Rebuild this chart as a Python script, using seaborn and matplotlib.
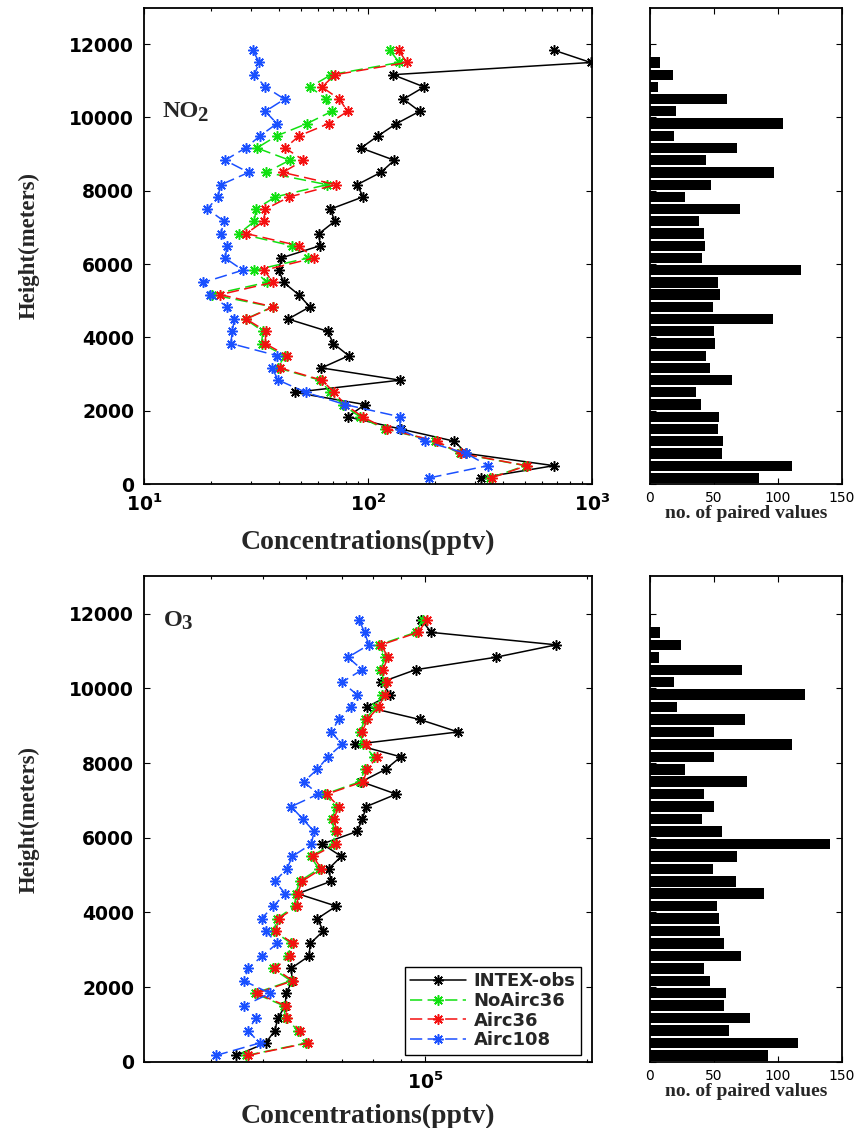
import matplotlib
matplotlib.use("Agg")
import matplotlib.pyplot as plt
import seaborn as sns
from matplotlib.ticker import LogLocator, NullFormatter

# ---------------- data ----------------
heights = [167, 500, 833, 1167, 1500, 1833, 2167, 2500, 2833, 3167, 3500, 3833,
           4167, 4500, 4833, 5167, 5500, 5833, 6167, 6500, 6833, 7167, 7500, 7833,
           8167, 8500, 8833, 9167, 9500, 9833, 10167, 10500, 10833, 11167, 11500, 11833]

series_names = ["INTEX-obs", "NoAirc36", "Airc36", "Airc108"]

# NO2 (pptv), bottom to top
no2_obs = [318, 676, 275, 243, 140, 81, 97, 47, 139, 62, 82, 70, 66, 44, 55, 49, 42, 40,
           41, 61, 60.5, 71, 68, 95, 89.5, 114, 131, 93, 111, 134, 170, 144, 178, 129, 986, 678]
no2_noairc36 = [350, 505, 257, 200, 119, 92, 77, 68, 61, 39.5, 42.5, 33.5, 33.9, 28.4, 37.5,
                20.1, 35.3, 31.1, 54.2, 45.7, 26.6, 31.1, 31.6, 38.6, 65.6, 35.1, 44.7, 31.9,
                39.2, 53.4, 69, 64.9, 55.2, 68.5, 138, 125]
no2_airc36 = [356, 511, 260, 203, 121, 94.6, 79, 70.7, 62.2, 40.5, 43.5, 34.7, 35.1, 28.6,
              37.8, 21.9, 37.6, 34.4, 57.5, 49.1, 28.6, 34.2, 34.8, 44.6, 71.9, 41.7, 51.5,
              42.7, 49.3, 66.7, 81.1, 74.5, 62.2, 71.4, 149, 137]
no2_airc108 = [188, 343, 275, 179, 139, 139, 79, 52.8, 39.8, 37.2, 39.4, 24.4, 24.8, 25.3,
               23.5, 19.7, 18.4, 27.6, 23, 23.5, 22, 22.8, 19.2, 21.3, 22.1, 29.3, 23, 28.4,
               33, 39.2, 34.8, 42.4, 34.8, 31.1, 32.7, 30.6]
no2_counts = [85, 111, 56, 57, 53, 54, 40, 36, 64, 47, 44, 51, 50, 96, 49, 55, 53, 118,
              41, 43, 42, 38, 70, 27, 48, 97, 44, 68, 19, 104, 20, 60, 6, 18, 8, 1]

# O3 (pptv), bottom to top
o3_obs = [44500, 50500, 52500, 53200, 54900, 55100, 56600, 56300, 60800, 61100, 64600,
          63000, 68300, 57900, 66800, 66100, 69800, 64300, 74600, 76400, 77600, 88300,
          76000, 84400, 90000, 73900, 115000, 97600, 77900, 86100, 82800, 95900, 135000,
          175000, 102600, 98300]
o3_noairc36 = [46500, 60000, 58000, 55000, 54500, 48200, 56200, 52000, 55600, 56300, 52300,
               53000, 57200, 57400, 58400, 63400, 61200, 67500, 67800, 67000, 68300, 65000,
               75600, 77200, 80300, 76600, 75600, 77200, 81000, 83000, 84000, 82500, 84300,
               82000, 95900, 99000]
o3_airc36 = [46800, 60500, 58600, 55300, 55000, 48600, 56700, 52500, 56100, 56700, 52700,
             53400, 57800, 57900, 59000, 64100, 61800, 68300, 68500, 67600, 69000, 65600,
             76600, 78000, 81300, 77400, 76300, 78000, 81900, 84000, 84900, 83400, 85200,
             82800, 96900, 100700]
o3_airc108 = [40800, 49200, 46800, 48400, 46100, 51400, 46000, 46800, 49800, 53000, 50500,
              49600, 52200, 54900, 52500, 55300, 56600, 61400, 62100, 59200, 56300, 63200,
              59400, 63000, 65900, 70000, 66900, 69000, 72600, 74600, 70000, 76300, 71800,
              78500, 77100, 75300]
o3_counts = [92, 116, 62, 78, 58, 59, 47, 42, 71, 58, 55, 54, 52, 89, 67, 49, 68, 141,
             56, 41, 50, 42, 76, 27, 50, 111, 50, 74, 21, 121, 19, 72, 7, 24, 8, 1]

height_ticks = [0, 2000, 4000, 6000, 8000, 10000, 12000]
count_ticks = [0, 50, 100, 150]

# ---------------- style ----------------
sns.set_theme(style="white")
plt.rcParams.update({
    "font.family": ["DejaVu Sans"],
    "mathtext.fontset": "dejavusans",
    "axes.edgecolor": "black",
    "axes.linewidth": 1.3,
    "xtick.color": "black",
    "ytick.color": "black",
    "xtick.direction": "in",
    "ytick.direction": "in",
})

colors = ["black", "#10e010", "#f41010", "#1a50ff"]
dash = (0, (8, 3.5))
linestyles = ["-", dash, dash, dash]
ast = (8, 2, 0)

W, H = 862.0, 1128.0


def axpos(l, t, r, b):
    return [l / W, 1 - b / H, (r - l) / W, (b - t) / H]


fig = plt.figure(figsize=(8.62, 11.28), dpi=100)
ax1 = fig.add_axes(axpos(144, 7.5, 592, 484))
axh1 = fig.add_axes(axpos(650, 7.5, 842, 484))
ax2 = fig.add_axes(axpos(144, 576.4, 592, 1061.7))
axh2 = fig.add_axes(axpos(650, 576.4, 842, 1061.7))

serif_bold = dict(family="Liberation Serif", weight="bold")


def line_panel(ax, data_list, xlim, major, major_labels):
    ax.set_xscale("log")
    for vals, name, col, ls in zip(data_list, series_names, colors, linestyles):
        sns.lineplot(x=vals, y=heights, sort=False, estimator=None, orient="y",
                     color=col, linestyle=ls, linewidth=1.1, marker=ast,
                     markersize=7.5, markeredgecolor=col, markeredgewidth=1.1,
                     label=name, legend=False, ax=ax)
    ax.set_xlim(*xlim)
    ax.set_ylim(0, 13000)
    ax.set_xticks(major)
    ax.set_xticklabels(major_labels, fontsize=13.5)
    ax.xaxis.set_minor_locator(LogLocator(base=10, subs=[2, 3, 4, 5, 6, 7, 8, 9]))
    ax.xaxis.set_minor_formatter(NullFormatter())
    ax.set_yticks(height_ticks)
    ax.set_yticklabels([str(v) for v in height_ticks], fontsize=13.5,
                       fontweight="bold", family="DejaVu Sans")
    ax.tick_params(which="both", direction="in", top=True, right=True,
                   bottom=True, left=True, width=0.8)
    ax.tick_params(which="major", length=4.5)
    ax.tick_params(which="minor", length=2.2)
    ax.tick_params(axis="y", pad=7)
    ax.tick_params(axis="x", pad=7)
    ax.set_xlabel("Concentrations(pptv)", fontsize=20, **serif_bold)
    ax.set_ylabel("Height(meters)", fontsize=16.5, **serif_bold)
    for s in ax.spines.values():
        s.set_visible(True)
        s.set_color("black")
        s.set_linewidth(1.3)


def hist_panel(ax, counts):
    sns.barplot(x=counts, y=heights, orient="y", native_scale=True, color="black",
                saturation=1, width=0.84, errorbar=None, linewidth=0, ax=ax)
    ax.set_xlim(0, 150)
    ax.set_ylim(0, 13000)
    ax.set_xticks(count_ticks)
    ax.set_xticklabels([str(v) for v in count_ticks], fontsize=10)
    ax.set_yticks(height_ticks)
    ax.set_yticklabels([])
    ax.tick_params(which="both", direction="in", top=True, right=True,
                   bottom=True, left=True, width=0.8, length=4.5)
    ax.tick_params(axis="x", pad=5)
    ax.set_xlabel("no. of paired values", fontsize=14, **serif_bold)
    ax.set_ylabel("")
    for s in ax.spines.values():
        s.set_visible(True)
        s.set_color("black")
        s.set_linewidth(1.3)


line_panel(ax1, [no2_obs, no2_noairc36, no2_airc36, no2_airc108], (10, 1000),
           [10, 100, 1000],
           [r"$\mathbf{10^{1}}$", r"$\mathbf{10^{2}}$", r"$\mathbf{10^{3}}$"])
line_panel(ax2, [o3_obs, o3_noairc36, o3_airc36, o3_airc108], (3.0e4, 2.04e5),
           [1e5], [r"$\mathbf{10^{5}}$"])
hist_panel(axh1, no2_counts)
hist_panel(axh2, o3_counts)

# label placements
ax1.xaxis.set_label_coords(0.5, -0.096)
ax2.xaxis.set_label_coords(0.5, -0.086)
ax1.yaxis.set_label_coords(-0.232, 0.5)
ax2.yaxis.set_label_coords(-0.232, 0.5)
axh1.xaxis.set_label_coords(0.5, -0.045)
axh2.xaxis.set_label_coords(0.5, -0.044)

# species labels
t1 = ax1.text(0.042, 0.771, "NO", transform=ax1.transAxes, fontsize=17.5,
              ha="left", va="baseline", **serif_bold)
ax1.annotate("2", xy=(1, 0), xycoords=t1, xytext=(-1.5, -3), textcoords="offset points",
             ha="left", va="bottom", fontsize=15, **serif_bold)
t2 = ax2.text(0.045, 0.898, "O", transform=ax2.transAxes, fontsize=17.5,
              ha="left", va="baseline", **serif_bold)
ax2.annotate("3", xy=(1, 0), xycoords=t2, xytext=(-1.5, -2.5), textcoords="offset points",
             ha="left", va="bottom", fontsize=15, **serif_bold)

leg = ax2.legend(loc="lower right", bbox_to_anchor=(0.975, 0.014),
                 prop={"family": "DejaVu Sans", "weight": "bold", "size": 13},
                 frameon=True, fancybox=False, framealpha=1, edgecolor="black",
                 handlelength=3.1, handletextpad=0.4, borderpad=0.3,
                 labelspacing=0.1, borderaxespad=0)
leg.get_frame().set_linewidth(1.0)

fig.savefig("out.png", dpi=100, facecolor="white")
